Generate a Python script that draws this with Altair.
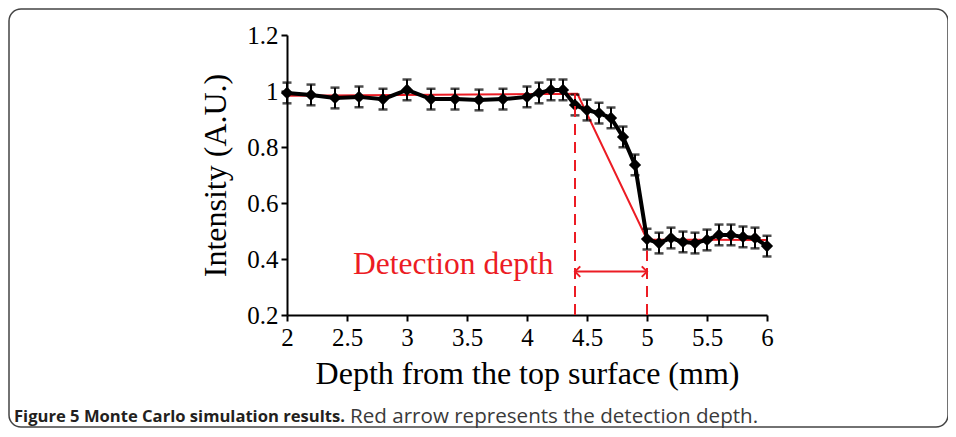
import altair as alt
import pandas as pd

# ---- data ----
depth = [2.0, 2.2, 2.4, 2.6, 2.8, 3.0, 3.2, 3.4, 3.6, 3.8, 4.0, 4.1, 4.2, 4.3,
         4.4, 4.5, 4.6, 4.7, 4.8, 4.9, 5.0, 5.1, 5.2, 5.3, 5.4, 5.5, 5.6, 5.7,
         5.8, 5.9, 6.0]
intensity = [0.993, 0.986, 0.975, 0.979, 0.971, 1.004, 0.971, 0.971, 0.968,
             0.971, 0.979, 0.993, 1.004, 1.004, 0.950, 0.932, 0.921, 0.904,
             0.836, 0.736, 0.471, 0.457, 0.475, 0.461, 0.457, 0.468, 0.486,
             0.486, 0.479, 0.475, 0.446]
error = [0.037, 0.037, 0.037, 0.037, 0.037, 0.037, 0.037, 0.037, 0.037, 0.037,
         0.037, 0.037, 0.037, 0.037, 0.037, 0.037, 0.037, 0.037, 0.037, 0.037,
         0.037, 0.037, 0.037, 0.037, 0.037, 0.037, 0.037, 0.037, 0.037, 0.037,
         0.037]

fit_depth = [2.0, 4.42, 5.0, 6.0]
fit_intensity = [0.983, 0.99, 0.47, 0.468]

marker_depth = [4.4, 5.0]
marker_top = [0.99, 0.43]
marker_bottom = [0.2, 0.2]
arrow_level = 0.355
label_text = "Detection depth"

x_ticks = [2, 2.5, 3, 3.5, 4, 4.5, 5, 5.5, 6]
y_ticks = [0.2, 0.4, 0.6, 0.8, 1.0, 1.2]

caption_bold = "Figure 5 Monte Carlo simulation results."
caption_rest = "Red arrow represents the detection depth."

RED = "#ec1c24"

df = pd.DataFrame({
    "depth": depth,
    "intensity": intensity,
    "lo": [v - e for v, e in zip(intensity, error)],
    "hi": [v + e for v, e in zip(intensity, error)],
})
fit = pd.DataFrame({"depth": fit_depth, "intensity": fit_intensity})
marks = pd.DataFrame({"depth": marker_depth, "top": marker_top, "bottom": marker_bottom})
arrow = pd.DataFrame({"x1": [marker_depth[0]], "x2": [marker_depth[1]], "y": [arrow_level]})
heads = pd.DataFrame({"depth": marker_depth, "y": [arrow_level, arrow_level],
                      "side": ["left", "right"]})
label = pd.DataFrame({"depth": [4.22], "y": [0.377], "t": [label_text]})

xs = alt.Scale(domain=[2, 6], nice=False, zero=False)
ys = alt.Scale(domain=[0.2, 1.2], nice=False, zero=False)

X = alt.X("depth:Q", scale=xs,
          axis=alt.Axis(values=x_ticks, format="~g",
                        title="Depth from the top surface (mm)",
                        labelPadding=4, titlePadding=8, labelFlush=False))
Y = alt.Y("intensity:Q", scale=ys,
          axis=alt.Axis(values=y_ticks, format="~g", title="Intensity (A.U.)",
                        labelPadding=3, titlePadding=14, labelFlush=False))

base = alt.Chart(df)

fit_line = alt.Chart(fit).mark_line(color=RED, strokeWidth=2).encode(x=X, y=Y)

err_rule = base.mark_rule(color="black", strokeWidth=2).encode(
    x=alt.X("depth:Q", scale=xs), y=alt.Y("lo:Q", scale=ys), y2="hi:Q")
cap_lo = base.mark_tick(color="black", orient="horizontal", size=9, thickness=2.5).encode(
    x=alt.X("depth:Q", scale=xs), y=alt.Y("lo:Q", scale=ys))
cap_hi = base.mark_tick(color="black", orient="horizontal", size=9, thickness=2.5).encode(
    x=alt.X("depth:Q", scale=xs), y=alt.Y("hi:Q", scale=ys))

data_line = base.mark_line(color="black", strokeWidth=4).encode(x=X, y=Y)
pts = base.mark_point(shape="diamond", filled=True, color="black", size=150,
                      opacity=1).encode(x=X, y=Y)

dashes = alt.Chart(marks).mark_rule(color=RED, strokeWidth=2, strokeDash=[11, 7]).encode(
    x=alt.X("depth:Q", scale=xs), y=alt.Y("bottom:Q", scale=ys), y2="top:Q")

arrow_rule = alt.Chart(arrow).mark_rule(color=RED, strokeWidth=2).encode(
    x=alt.X("x1:Q", scale=xs), x2="x2:Q", y=alt.Y("y:Q", scale=ys))

head_l = alt.Chart(heads).transform_filter(alt.datum.side == "left").mark_point(
    shape="M 1 -1 L 0 0 L 1 1", filled=False, color=RED, strokeWidth=2, size=110,
    opacity=1).encode(x=alt.X("depth:Q", scale=xs), y=alt.Y("y:Q", scale=ys))
head_r = alt.Chart(heads).transform_filter(alt.datum.side == "right").mark_point(
    shape="M -1 -1 L 0 0 L -1 1", filled=False, color=RED, strokeWidth=2, size=110,
    opacity=1).encode(x=alt.X("depth:Q", scale=xs), y=alt.Y("y:Q", scale=ys))

det_text = alt.Chart(label).mark_text(
    font="Liberation Serif", fontSize=31.5, color=RED, align="right", baseline="middle"
).encode(x=alt.X("depth:Q", scale=xs), y=alt.Y("y:Q", scale=ys), text="t:N")

cap_df = pd.DataFrame({"a": [caption_bold], "b": [caption_rest]})
cap1 = alt.Chart(cap_df).mark_text(
    font="Open Sans", fontSize=16.6, fontWeight="bold", color="#231f20",
    align="left", baseline="middle").encode(
    x=alt.value(-273), y=alt.value(382), text="a:N")
cap2 = alt.Chart(cap_df).mark_text(
    font="Open Sans", fontSize=20.6, color="#3a3a3a",
    align="left", baseline="middle").encode(
    x=alt.value(63), y=alt.value(382), text="b:N")

frame = alt.Chart(cap_df).mark_rect(
    fill="transparent", stroke="#444444", strokeWidth=1.5, cornerRadius=12).encode(
    x=alt.value(-278), x2=alt.value(661), y=alt.value(-26), y2=alt.value(392))

chart = alt.layer(
    frame, fit_line, err_rule, cap_lo, cap_hi, data_line, pts,
    dashes, arrow_rule, head_l, head_r, det_text, cap1, cap2
).properties(
    width=480, height=280,
    autosize=alt.AutoSizeParams(type="none"),
    padding={"left": 279, "top": 27, "right": 181, "bottom": 114},
).configure_view(stroke=None).configure_axis(
    grid=False, domainColor="black", domainWidth=2, tickColor="black",
    tickWidth=2, tickSize=6, labelFont="Liberation Serif", labelFontSize=25,
    labelColor="black", titleFont="Liberation Serif", titleFontSize=32,
    titleFontWeight="normal", titleColor="black"
)

chart.save("out.html", embed_options={"renderer": "svg", "actions": False})
